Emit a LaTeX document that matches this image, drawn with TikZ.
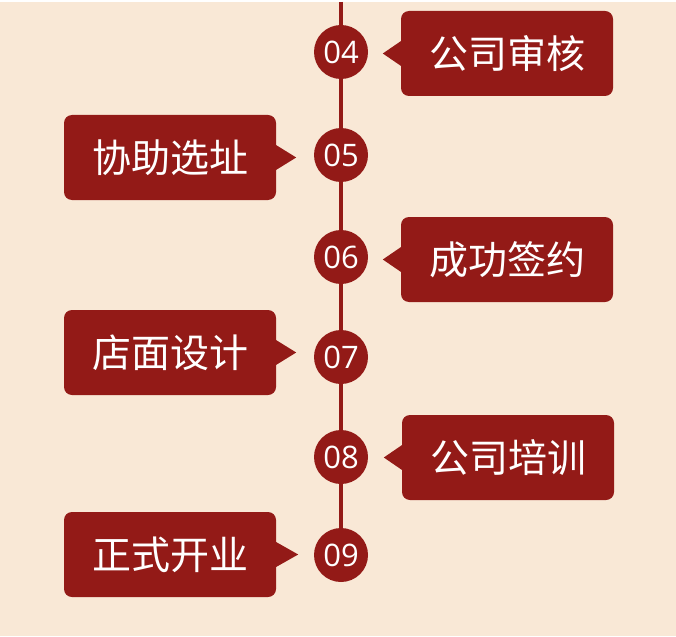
\documentclass[tikz,border=0pt]{standalone}
\usepackage{fontspec}
\setmainfont{Open Sans}
\newfontfamily\cjk{Noto Sans CJK SC}
\usetikzlibrary{calc}
\definecolor{bgcream}{HTML}{F9E8D6}
\definecolor{darkred}{HTML}{931A17}
\tikzset{num/.style={circle,fill=darkred,text=white,minimum size=54pt,
        inner sep=0pt,font=\fontsize{31}{31}\selectfont},
    tagbox/.style={fill=darkred,text=white,rounded corners=8pt,
        minimum width=212pt,minimum height=85pt,inner sep=0pt,
        font=\cjk\fontsize{39}{39}\selectfont},
    tagtip/.style={fill=darkred}}

\begin{document}
\begin{tikzpicture}[x=1pt,y=-1pt]
    \fill[bgcream] (0,0) rectangle (676,634);
    \coordinate (top) at (341,0);
    \coordinate (bottom) at (341,553);
    \draw[darkred,line width=4pt] (top) -- (bottom);
    % steps
    \node[num] (n4) at (341,50) {04};
    \node[num] (n5) at (341,153) {05};
    \node[num] (n6) at (341,255) {06};
    \node[num] (n7) at (341,355) {07};
    \node[num] (n8) at (341,455) {08};
    \node[num] (n9) at (341,553) {09};
    % labels
    \node[tagbox] (t4) at (507,51.5) {公司审核};
    \node[tagbox] (t5) at (170,155.5) {协助选址};
    \node[tagbox] (t6) at (507,257.5) {成功签约};
    \node[tagbox] (t7) at (170,350.5) {店面设计};
    \node[tagbox] (t8) at (508,455.5) {公司培训};
    \node[tagbox] (t9) at (170,552.5) {正式开业};
    \fill[tagtip] ($(t4.west)+(1,-13)$) -- ($(t4.west)+(-18,0)$) -- ($(t4.west)+(1,13)$) -- cycle;
    \fill[tagtip] ($(t6.west)+(1,-13)$) -- ($(t6.west)+(-18,0)$) -- ($(t6.west)+(1,13)$) -- cycle;
    \fill[tagtip] ($(t8.west)+(1,-13)$) -- ($(t8.west)+(-18,0)$) -- ($(t8.west)+(1,13)$) -- cycle;
    \fill[tagtip] ($(t5.east)+(-1,-13)$) -- ($(t5.east)+(20,0)$) -- ($(t5.east)+(-1,13)$) -- cycle;
    \fill[tagtip] ($(t7.east)+(-1,-13)$) -- ($(t7.east)+(20,0)$) -- ($(t7.east)+(-1,13)$) -- cycle;
    \fill[tagtip] ($(t9.east)+(-1,-13)$) -- ($(t9.east)+(22,0)$) -- ($(t9.east)+(-1,13)$) -- cycle;
\end{tikzpicture}
\end{document}
